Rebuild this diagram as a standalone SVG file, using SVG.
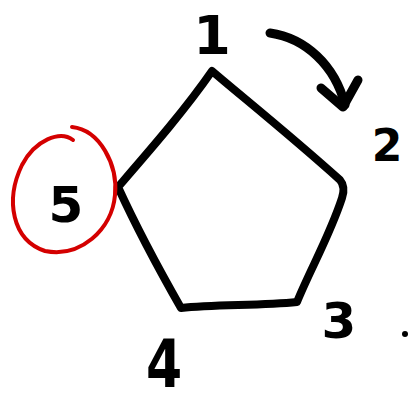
<svg xmlns="http://www.w3.org/2000/svg" width="408" height="405" viewBox="0 0 408 405">
<style>
.ink{fill:none;stroke:#000;stroke-linecap:round;stroke-linejoin:round}
.lbl{font-family:"DejaVu Sans",sans-serif;font-weight:bold;fill:#000;text-anchor:middle}
</style>
<rect width="408" height="405" fill="#fff"/>
<g id="pentagon">
<path class="ink" stroke-width="8" d="M118,187 C150,150 185,110 212,71 C240,95 290,135 340,180 C345,186 344,192 342,198 C330,235 310,270 297,302 C260,306 215,304 181,308 C165,280 140,235 118,187 Z"/>
</g>
<g id="n1"><text class="lbl" x="212" y="54" font-size="54">1</text></g>
<g id="n2"><text class="lbl" x="387" y="161" font-size="44">2</text></g>
<g id="n3"><text class="lbl" x="339" y="338" font-size="50">3</text></g>
<g id="n4"><text class="lbl" transform="translate(164,387) scale(1,1.25)" font-size="52">4</text></g>
<g id="n5">
<text class="lbl" x="66" y="222" font-size="50">5</text>
<path fill="none" stroke="#d40000" stroke-width="4" stroke-linecap="round" d="M73,140 C60,130 35,140 22,165 C5,200 12,240 45,251 C80,258 112,230 115,195 C118,165 100,130 72,127"/>
</g>
<g id="connectors">
<path class="ink" stroke-width="9" d="M270,33 C305,38 335,65 345,105"/>
<path class="ink" stroke-width="9" d="M321,88 L343,107 L358,80"/>
<circle cx="405" cy="334" r="3" fill="#000"/>
</g>
</svg>
